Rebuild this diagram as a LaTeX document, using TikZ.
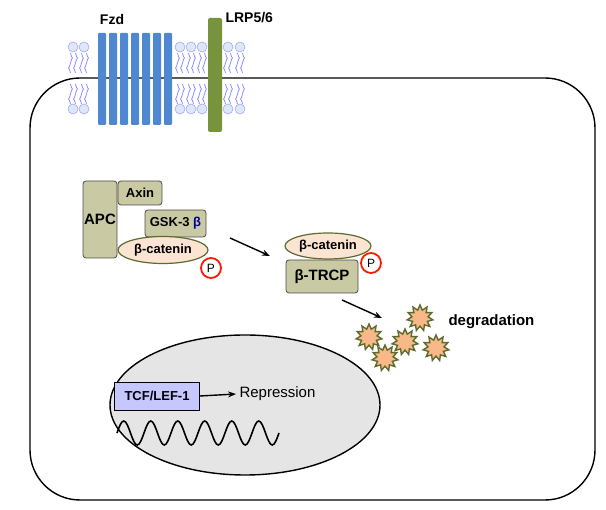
\documentclass[tikz,border=0pt]{standalone}
\usepackage{fontspec}
\setmainfont{Liberation Sans}
\usetikzlibrary{shapes.geometric,arrows.meta}
\definecolor{khaki}{HTML}{C9C9A3}
\definecolor{olive}{HTML}{5E6B2E}
\definecolor{peach}{HTML}{FCE4D2}
\definecolor{fzd}{HTML}{4F88D0}
\definecolor{lrp}{HTML}{77933C}
\definecolor{starc}{HTML}{F9B887}
\definecolor{head}{HTML}{DCE8F5}
\begin{document}
\begin{tikzpicture}[x=1pt,y=-1pt,
 prot/.style={draw=black!70,fill=khaki,rounded corners=3pt,line width=0.8pt,font=\bfseries\fontsize{13}{15}\selectfont},
 cat/.style={ellipse,draw=olive,fill=peach,line width=1.2pt,font=\bfseries\fontsize{13}{15}\selectfont,inner sep=0pt},
 pc/.style={circle,draw=red!80!orange,line width=1.8pt,fill=white,minimum size=20pt,inner sep=0pt,font=\fontsize{12}{14}\selectfont},
 arr/.style={-{Stealth[length=8pt]},line width=1.4pt},
 st/.style={shape=star,star points=11,star point ratio=1.6,draw=olive,fill=starc,line width=1.4pt,minimum size=26pt,inner sep=0pt},
 lipid/.style={circle,fill=head,draw=blue!35,line width=0.6pt,minimum size=10pt,inner sep=0pt}]
\useasboundingbox (0,0) rectangle (606,510);
% lipids
\foreach \x in {73,84,180,191,202,228,240}{
 \node[lipid] at (\x,47) {}; \node[lipid] at (\x,109) {};
 \foreach \d in {-2.5,2.5}{
 \draw[blue!45,line width=0.8pt] (\x+\d,53) sin (\x+\d+2,58) cos (\x+\d,63) sin (\x+\d-2,68) cos (\x+\d,73);
 \draw[blue!45,line width=0.8pt] (\x+\d,84) sin (\x+\d+2,89) cos (\x+\d,94) sin (\x+\d-2,99) cos (\x+\d,104);}
}
% cell
\draw[line width=1.4pt,rounded corners=50pt] (30,78) rectangle (595,500);
% Fzd
\foreach \i in {0,...,6}{\fill[fzd,rounded corners=1pt] (98+\i*11,33) rectangle (106+\i*11,125);}
\node[font=\bfseries\fontsize{14}{16}\selectfont] (fzd) at (112,20) {Fzd};
\fill[lrp,rounded corners=2pt] (208,18) rectangle (222,132);
\node[font=\bfseries\fontsize{14}{16}\selectfont,anchor=west] (lrp) at (222,18) {LRP5/6};
% complex
\node[prot,minimum width=34pt,minimum height=77pt,font=\bfseries\fontsize{15}{17}\selectfont,inner sep=0pt] (apc) at (100,219.5) {APC};
\node[prot,minimum width=44pt,minimum height=24pt,inner sep=1pt] (axin) at (140,193) {Axin};
\node[prot,minimum width=61pt,minimum height=27pt,inner sep=1pt] (gsk) at (175.5,223.5) {GSK-3 \textcolor{blue!60!black}{β}};
\node[cat,minimum width=90pt,minimum height=27pt] (cat1) at (163,250) {β-catenin};
\node[pc] (p1) at (211,268) {P};
\draw[arr] (230,238) -- (270,256);
\node[prot,minimum width=72pt,minimum height=33pt,font=\bfseries\fontsize{15}{17}\selectfont] (trcp) at (322,276.5) {β-TRCP};
\node[cat,minimum width=86pt,minimum height=26pt] (cat2) at (328,246) {β-catenin};
\node[pc] (p2) at (371,263) {P};
\coordinate (dg) at (382,318);
\draw[arr] (342,300) -- (dg);
% stars
\node[st] (s1) at (420,318) {};
\node[st] (s2) at (369,337) {};
\node[st] (s3) at (405,342) {};
\node[st] (s4) at (436,348) {};
\node[st] (s5) at (385,358) {};
\node[font=\bfseries\fontsize{15}{17}\selectfont,anchor=west] (deg) at (445,322) {degradation};
% nucleus
\node[ellipse,draw,line width=1.4pt,fill=black!10,minimum width=270pt,minimum height=140pt] (nuc) at (245,405) {};
\node[draw,fill=blue!22,line width=0.8pt,minimum width=85pt,minimum height=28pt,font=\bfseries\fontsize{13}{15}\selectfont,inner sep=1pt] (tcf) at (157,396) {TCF/LEF-1};
\node[anchor=west,font=\fontsize{15}{17}\selectfont] (rep) at (236,394) {Repression};
\draw[arr] (tcf.east) -- (rep.west);
\draw[line width=1.6pt] (117,433) \foreach \k in {0,...,5}{ sin ++(6.75,-12) cos ++(6.75,12) sin ++(6.75,12) cos ++(6.75,-12)};
\end{tikzpicture}
\end{document}
